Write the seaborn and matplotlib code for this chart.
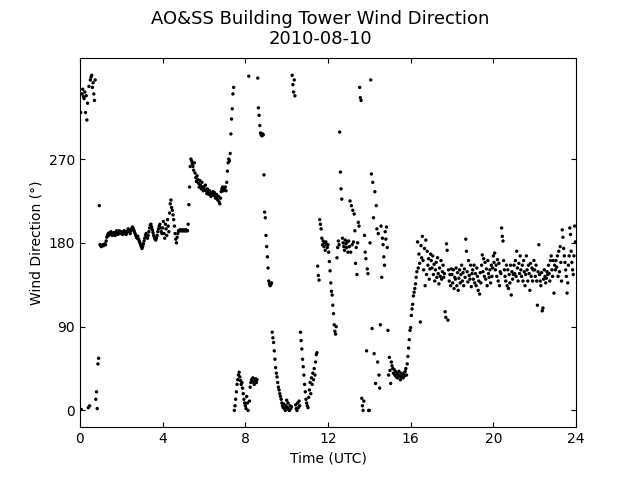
import numpy as np
import pandas as pd
import matplotlib
matplotlib.use("Agg")
import matplotlib.pyplot as plt
import seaborn as sns

# Wind direction (deg), 2-minute samples, one list per UTC hour
dir_h00 = [345, 320, 1, 340, 345, 337, 335, 342, 320, 338, 312, 330, 3, 348, 5, 355, 358, 360, 347, 352, 340, 333, 355, 12, 20, 2, 50, 56, 220, 178]
dir_h01 = [177, 176, 177, 178, 177, 178, 179, 178, 182, 186, 188, 190, 188, 191, 190, 192, 189, 188, 190, 191, 189, 188, 191, 193, 190, 189, 192, 193, 190, 191]
dir_h02 = [192, 190, 189, 191, 193, 192, 190, 189, 191, 193, 195, 194, 192, 190, 193, 195, 197, 196, 194, 192, 190, 188, 186, 185, 187, 184, 182, 180, 178, 176]
dir_h03 = [174, 176, 179, 182, 185, 188, 190, 187, 185, 188, 192, 196, 199, 200, 197, 194, 191, 188, 186, 184, 183, 185, 188, 192, 195, 198, 200, 196, 192, 190]
dir_h04 = [196, 203, 190, 185, 200, 195, 188, 205, 198, 192, 212, 222, 226, 218, 215, 210, 205, 198, 190, 184, 180, 186, 190, 193, 193, 194, 193, 193, 194, 193]
dir_h05 = [193, 194, 193, 193, 194, 193, 193, 200, 221, 240, 262, 270, 268, 265, 262, 258, 266, 255, 250, 246, 252, 248, 244, 240, 247, 242, 238, 245, 240, 236]
dir_h06 = [240, 237, 242, 236, 233, 238, 235, 232, 236, 233, 230, 234, 232, 235, 231, 234, 230, 228, 232, 229, 226, 230, 224, 222, 228, 235, 238, 240, 236, 239]
dir_h07 = [237, 240, 236, 245, 257, 266, 270, 268, 276, 297, 313, 324, 340, 347, 0, 5, 12, 20, 28, 33, 38, 41, 36, 32, 28, 30, 24, 18, 12, 8]
dir_h08 = [5, 2, 15, 8, 0, 359, 10, 25, 30, 33, 32, 35, 30, 28, 32, 34, 30, 33, 357, 325, 317, 306, 298, 296, 295, 297, 296, 253, 213, 207]
dir_h09 = [188, 176, 165, 153, 139, 136, 134, 135, 137, 84, 78, 73, 64, 55, 46, 40, 36, 30, 25, 22, 18, 15, 12, 8, 5, 3, 7, 2, 0, 5]
dir_h10 = [11, 3, 8, 1, 0, 5, 2, 4, 360, 350, 342, 355, 338, 6, 2, 0, 8, 3, 10, 5, 84, 75, 66, 55, 47, 38, 28, 20, 12, 8]
dir_h11 = [5, 3, 14, 22, 30, 18, 35, 28, 40, 33, 45, 38, 52, 60, 62, 155, 145, 140, 205, 200, 195, 185, 178, 182, 176, 180, 172, 181, 178, 175]
dir_h12 = [178, 170, 160, 150, 137, 128, 124, 113, 104, 92, 85, 82, 90, 164, 175, 182, 178, 299, 256, 238, 227, 185, 180, 176, 172, 183, 179, 175, 181, 170]
dir_h13 = [182, 176, 225, 170, 220, 178, 215, 181, 211, 193, 158, 175, 146, 180, 202, 198, 347, 336, 333, 13, 5, 0, 10, 188, 170, 163, 64, 152, 147, 0]
dir_h14 = [0, 180, 355, 254, 88, 245, 207, 61, 235, 29, 220, 195, 52, 190, 38, 24, 92, 198, 143, 185, 178, 165, 156, 192, 184, 197, 175, 86, 38, 57]
dir_h15 = [43, 29, 52, 48, 45, 40, 44, 38, 42, 36, 40, 35, 38, 42, 37, 33, 40, 36, 38, 35, 40, 37, 42, 45, 38, 50, 58, 67, 76, 86]
dir_h16 = [89, 102, 109, 114, 123, 127, 131, 136, 143, 149, 181, 153, 168, 158, 95, 177, 164, 187, 161, 151, 174, 134, 183, 146, 171, 156, 163, 141, 152, 168]
dir_h17 = [161, 153, 166, 146, 157, 139, 151, 159, 143, 164, 147, 136, 153, 144, 161, 141, 149, 156, 143, 147, 106, 100, 179, 172, 97, 151, 139, 146, 134, 152]
dir_h18 = [146, 137, 151, 131, 143, 141, 153, 134, 148, 129, 142, 151, 137, 146, 156, 139, 148, 134, 152, 143, 184, 171, 149, 138, 161, 145, 141, 156, 133, 147]
dir_h19 = [151, 141, 156, 137, 147, 134, 153, 144, 129, 139, 125, 148, 137, 156, 167, 149, 163, 144, 159, 141, 152, 134, 161, 147, 143, 151, 137, 156, 144, 153]
dir_h20 = [166, 159, 169, 151, 156, 144, 162, 139, 158, 134, 149, 147, 196, 187, 182, 161, 151, 144, 139, 156, 134, 151, 131, 146, 137, 156, 124, 149, 141, 146]
dir_h21 = [156, 147, 161, 144, 171, 153, 139, 158, 147, 166, 151, 144, 156, 139, 161, 149, 134, 146, 166, 151, 139, 156, 147, 129, 158, 144, 153, 139, 151, 161]
dir_h22 = [151, 144, 156, 139, 113, 149, 178, 146, 139, 134, 148, 107, 110, 141, 151, 144, 137, 142, 149, 146, 156, 147, 139, 161, 166, 151, 144, 161, 126, 156]
dir_h23 = [151, 161, 154, 166, 144, 171, 149, 176, 159, 139, 194, 186, 174, 166, 159, 151, 144, 126, 137, 156, 166, 196, 189, 171, 159, 151, 146, 166, 198, 181]

hourly = [dir_h00, dir_h01, dir_h02, dir_h03, dir_h04, dir_h05, dir_h06, dir_h07,
          dir_h08, dir_h09, dir_h10, dir_h11, dir_h12, dir_h13, dir_h14, dir_h15,
          dir_h16, dir_h17, dir_h18, dir_h19, dir_h20, dir_h21, dir_h22, dir_h23]

sample_minutes = 2
times, dirs = [], []
for hour, vals in enumerate(hourly):
    for i, v in enumerate(vals):
        times.append(hour + i * sample_minutes / 60.0)
        dirs.append(v)
df = pd.DataFrame({"time": times, "direction": dirs})

x_ticks = [0, 4, 8, 12, 16, 20, 24]
y_ticks = [0, 90, 180, 270]

fig = plt.figure(figsize=(6.4, 4.8), dpi=100)
ax = fig.add_axes([0.125, 0.11, 0.775, 0.77])
sns.scatterplot(data=df, x="time", y="direction", ax=ax, color="black",
                s=6, edgecolor="none", linewidth=0)
ax.set_xlim(0, 24)
ax.set_ylim(-18, 379)
ax.set_xticks(x_ticks)
ax.set_yticks(y_ticks)
ax.tick_params(direction="in", top=True, right=True, labelsize=10)
ax.set_xlabel("Time (UTC)", fontsize=10)
ax.set_ylabel("Wind Direction (°)", fontsize=10)
fig.suptitle("AO&SS Building Tower Wind Direction\n2010-08-10", fontsize=13, y=0.98)
for s in ax.spines.values():
    s.set_color("black")
fig.savefig("out.png", dpi=100)
